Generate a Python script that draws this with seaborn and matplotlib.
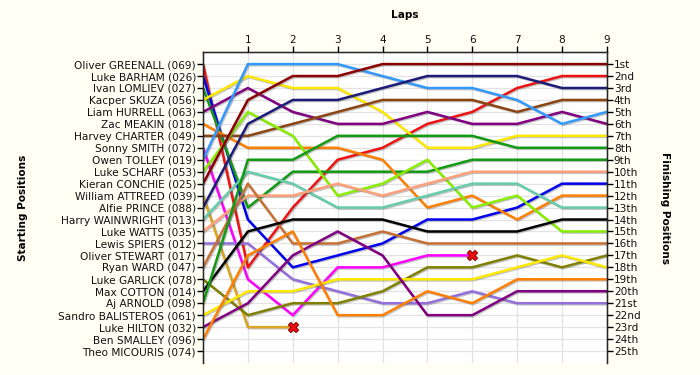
import matplotlib
matplotlib.use("Agg")
import matplotlib.pyplot as plt
import matplotlib.patheffects as pe
import pandas as pd
import seaborn as sns

# grid order, position 1 at the top
grid_names = ["Oliver GREENALL (069)", "Luke BARHAM (026)", "Ivan LOMLIEV (027)", "Kacper SKUZA (056)",
              "Liam HURRELL (063)", "Zac MEAKIN (018)", "Harvey CHARTER (049)", "Sonny SMITH (072)",
              "Owen TOLLEY (019)", "Luke SCHARF (053)", "Kieran CONCHIE (025)", "William ATTREED (039)",
              "Alfie PRINCE (088)", "Harry WAINWRIGHT (013)", "Luke WATTS (035)", "Lewis SPIERS (012)",
              "Oliver STEWART (017)", "Ryan WARD (047)", "Luke GARLICK (078)", "Max COTTON (014)",
              "Aj ARNOLD (098)", "Sandro BALISTEROS (061)", "Luke HILTON (032)", "Ben SMALLEY (096)",
              "Theo MICOURIS (074)"]

finish_labels = ["1st", "2nd", "3rd", "4th", "5th", "6th", "7th", "8th", "9th", "10th", "11th", "12th",
                 "13th", "14th", "15th", "16th", "17th", "18th", "19th", "20th", "21st", "22nd", "23rd",
                 "24th", "25th"]

laps = list(range(10))

# drivers that have a trace, their colour and their position at each lap (0 = grid)
drivers = ["Oliver GREENALL (069)", "Luke BARHAM (026)", "Ivan LOMLIEV (027)", "Kacper SKUZA (056)",
           "Liam HURRELL (063)", "Zac MEAKIN (018)", "Harvey CHARTER (049)", "Sonny SMITH (072)",
           "Owen TOLLEY (019)", "Luke SCHARF (053)", "Kieran CONCHIE (025)", "William ATTREED (039)",
           "Alfie PRINCE (088)", "Harry WAINWRIGHT (013)", "Luke WATTS (035)", "Lewis SPIERS (012)",
           "Ryan WARD (047)", "Luke GARLICK (078)", "Max COTTON (014)", "Aj ARNOLD (098)",
           "Sandro BALISTEROS (061)", "Luke HILTON (032)", "Ben SMALLEY (096)"]

colours = ["#ee1111", "#0000ee", "#139a13", "#ffe800", "#800080", "#ff7f00", "#8b4513", "#ff00ff",
           "#3399ff", "#88ee00", "#8b0000", "#daa520", "#1c1c78", "#66cdaa", "#ffa07a", "#9370db",
           "#c87137", "#808000", "#000000", "#139a13", "#ffe800", "#800080", "#ff7f00"]

positions = [
    [1, 18, 13, 9, 8, 6, 5, 3, 2, 2],
    [2, 14, 18, 17, 16, 14, 14, 13, 11, 11],
    [3, 13, 10, 10, 10, 10, 9, 9, 9, 9],
    [4, 2, 3, 3, 5, 8, 8, 7, 7, 7],
    [5, 3, 5, 6, 6, 5, 6, 6, 5, 6],
    [6, 8, 8, 8, 9, 13, 12, 14, 12, 12],
    [7, 7, 6, 5, 4, 4, 4, 5, 4, 4],
    [8, 19, 22, 18, 18, 17, 17],
    [9, 1, 1, 1, 2, 3, 3, 4, 6, 5],
    [10, 5, 7, 12, 11, 9, 13, 12, 15, 15],
    [11, 4, 2, 2, 1, 1, 1, 1, 1, 1],
    [12, 23, 23],
    [13, 6, 4, 4, 3, 2, 2, 2, 3, 3],
    [14, 10, 11, 13, 13, 12, 11, 11, 13, 13],
    [15, 12, 12, 11, 12, 11, 10, 10, 10, 10],
    [16, 16, 19, 20, 21, 21, 20, 21, 21, 21],
    [18, 11, 16, 16, 15, 16, 16, 16, 16, 16],
    [19, 22, 21, 21, 20, 18, 18, 17, 18, 17],
    [20, 15, 14, 14, 14, 15, 15, 15, 14, 14],
    [21, 9, 9, 7, 7, 7, 7, 8, 8, 8],
    [22, 20, 20, 19, 19, 19, 19, 18, 17, 18],
    [23, 21, 17, 15, 17, 22, 22, 20, 20, 20],
    [24, 17, 15, 22, 22, 20, 21, 19, 19, 19],
]

retired_laps = [6, 2]
retired_pos = [17, 23]

rows = []
for name, pos in zip(drivers, positions):
    for lap, p in zip(laps, pos):
        rows.append({"driver": name, "lap": lap, "pos": p})
df = pd.DataFrame(rows)

sns.set_style("ticks")
plt.rcParams["font.family"] = ["DejaVu Sans"]
plt.rcParams["text.color"] = "#111111"
plt.rcParams["xtick.labelcolor"] = "#111111"
plt.rcParams["ytick.labelcolor"] = "#111111"
plt.rcParams["axes.labelcolor"] = "black"

bg = "#fffff4"
fig = plt.figure(figsize=(7, 3.75), dpi=100, facecolor=bg)
ax = fig.add_axes([0.29, 0.032, 0.577, 0.829])
ax.set_facecolor("white")

shadow = [pe.SimpleLineShadow(offset=(0.8, -0.8), shadow_color="#555555", alpha=0.35), pe.Normal()]
sns.lineplot(data=df, x="lap", y="pos", hue="driver", palette=dict(zip(drivers, colours)),
             estimator=None, sort=False, legend=False, lw=1.8, path_effects=shadow, ax=ax)
ax.scatter(retired_laps, retired_pos, marker="X", s=55, color="#ee1111", edgecolor="#880000",
           linewidth=0.7, zorder=5)

ax.set_xlim(0, 9)
ax.set_ylim(26, 0)
ax.set_yticks(range(1, 26))
ax.set_yticklabels(grid_names, fontsize=7.6)
ax.xaxis.tick_top()
ax.set_xticks(range(1, 10))
ax.set_xticklabels([str(i) for i in range(1, 10)], fontsize=7.6)
ax.grid(True, color="#e3e3e3", lw=0.9)
ax.set_axisbelow(True)
ax.tick_params(axis="both", direction="out", length=4, width=1, color="black", pad=1)
ax.spines["bottom"].set_visible(False)
for s in ["left", "right", "top"]:
    ax.spines[s].set_color("black")
    ax.spines[s].set_linewidth(1)

ax.set_xlabel("Laps", fontsize=7.6, fontweight="bold")
ax.xaxis.set_label_position("top")
ax.xaxis.set_label_coords(0.5, 1.109)
ax.set_ylabel("Starting Positions", fontsize=7.6, fontweight="bold")
ax.yaxis.set_label_coords(-0.433, 0.5)

ax2 = ax.twinx()
ax2.set_ylim(26, 0)
ax2.set_yticks(range(1, 26))
ax2.set_yticklabels(finish_labels, fontsize=7.6)
ax2.tick_params(axis="y", direction="out", length=4, width=1, color="black", pad=1)
ax2.spines["bottom"].set_visible(False)
ax2.set_ylabel("Finishing Positions", fontsize=7.6, fontweight="bold", rotation=270, va="center")
ax2.yaxis.set_label_coords(1.144, 0.5)

fig.savefig("out.png", dpi=100, facecolor=bg)
